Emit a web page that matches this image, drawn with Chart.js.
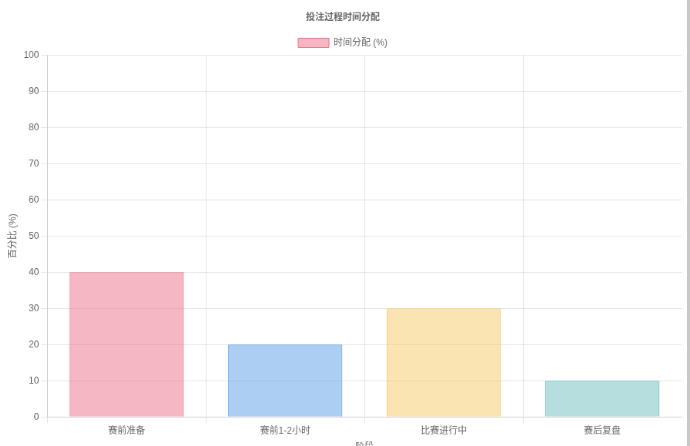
<!DOCTYPE html>
<html>
<head>
<meta charset="utf-8">
<script src="https://cdn.jsdelivr.net/npm/chart.js@4"></script>
<style>
  html, body { margin: 0; padding: 0; background: #fff; overflow: hidden; }
  #wrap { position: absolute; left: 4px; top: 4px; width: 880px; height: 587px; transform: scale(0.77); transform-origin: 0 0; }
  #bar { position: fixed; top: 0; right: 0; width: 3px; height: 446px; background: #c8c8c8; }
</style>
</head>
<body>
<div id="wrap"><canvas id="timeChart"></canvas></div>
<div id="bar"></div>
<script>
// Time split across the betting process
const stages = ['赛前准备', '赛前1-2小时', '比赛进行中', '赛后复盘'];
const shares = [40, 20, 30, 10];
const fillColors = ['rgba(237, 111, 137, 0.5)', 'rgba(89, 157, 229, 0.5)', 'rgba(245, 203, 101, 0.5)', 'rgba(109, 189, 189, 0.5)'];
const lineColors = ['rgb(236, 110, 136)', 'rgb(90, 158, 228)', 'rgb(246, 206, 110)', 'rgb(108, 188, 188)'];

Chart.defaults.font.family = "'Helvetica Neue', Helvetica, Arial, 'Noto Sans CJK SC', sans-serif";

const ctx = document.getElementById('timeChart').getContext('2d');
new Chart(ctx, {
  type: 'bar',
  data: {
    labels: stages,
    datasets: [{
      label: '时间分配 (%)',
      data: shares,
      backgroundColor: fillColors,
      borderColor: lineColors,
      borderWidth: 1
    }]
  },
  options: {
    responsive: true,
    maintainAspectRatio: false,
    animation: false,
    plugins: {
      title: {
        display: true,
        text: '投注过程时间分配'
      }
    },
    scales: {
      x: {
        title: {
          display: true,
          text: '阶段'
        }
      },
      y: {
        beginAtZero: true,
        max: 100,
        ticks: { stepSize: 10 },
        title: {
          display: true,
          text: '百分比 (%)'
        }
      }
    }
  }
});
</script>
</body>
</html>
